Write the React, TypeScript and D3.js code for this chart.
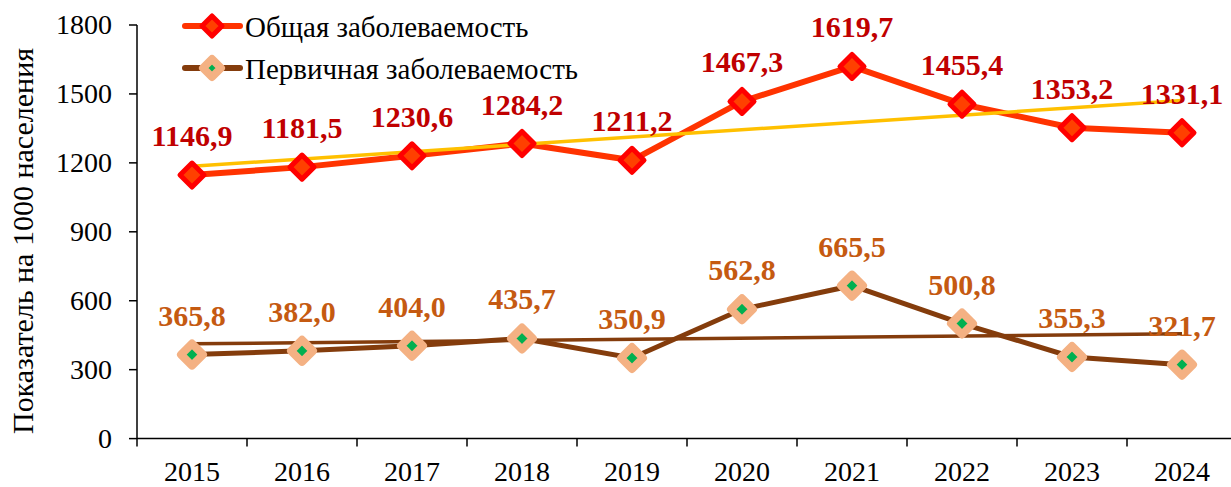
import { useEffect, useRef } from "react"
import * as d3 from "d3"

// years and the two series (per 1000 population)
const years = ["2015", "2016", "2017", "2018", "2019", "2020", "2021", "2022", "2023", "2024"]
const totalValues = [1146.9, 1181.5, 1230.6, 1284.2, 1211.2, 1467.3, 1619.7, 1455.4, 1353.2, 1331.1]
const primaryValues = [365.8, 382.0, 404.0, 435.7, 350.9, 562.8, 665.5, 500.8, 355.3, 321.7]
const yTicks = [0, 300, 600, 900, 1200, 1500, 1800]
const seriesNames = ["Общая заболеваемость", "Первичная заболеваемость"]

const FONT = "'Liberation Serif', 'Times New Roman', serif"

function diamond(r: number) {
  return `M0,${-r}L${r},0L0,${r}L${-r},0Z`
}

// least squares line through (index, value)
function trend(values: number[]) {
  const n = values.length
  const mx = d3.mean(values.map((_, i) => i)) as number
  const my = d3.mean(values) as number
  const sxy = d3.sum(values, (v, i) => (i - mx) * (v - my))
  const sxx = d3.sum(values, (_, i) => (i - mx) * (i - mx))
  const slope = sxy / sxx
  return [0, n - 1].map((i) => ({ i, v: my + slope * (i - mx) }))
}

export default function App() {
  const svgRef = useRef<SVGSVGElement>(null)

  useEffect(() => {
    if (!svgRef.current) return
    const svg = d3.select(svgRef.current)
    svg.selectAll("*").remove()

    const width = 1231
    const height = 487

    const x = d3.scaleBand().domain(years).range([137, 1237])
    const y = d3.scaleLinear().domain([0, 1800]).range([438.6, 25])
    const cx = (i: number) => (x(years[i]) as number) + x.bandwidth() / 2

    svg.attr("width", width).attr("height", height).attr("viewBox", [0, 0, width, height])

    // y axis
    const yAxis = svg.append("g").attr("transform", "translate(137,0)")
    yAxis.append("line").attr("y1", y(1800)).attr("y2", y(0)).attr("stroke", "#000").attr("stroke-width", 1.5)
    yAxis
      .selectAll(".yt")
      .data(yTicks)
      .join("line")
      .attr("x1", -8)
      .attr("x2", 0)
      .attr("y1", (d) => y(d))
      .attr("y2", (d) => y(d))
      .attr("stroke", "#000")
      .attr("stroke-width", 1.5)
    yAxis
      .selectAll(".yl")
      .data(yTicks)
      .join("text")
      .attr("x", -25)
      .attr("y", (d) => y(d) + 9)
      .attr("text-anchor", "end")
      .attr("font-family", FONT)
      .attr("font-size", 28)
      .text((d) => d)

    // x axis
    const xAxis = svg.append("g")
    xAxis
      .append("line")
      .attr("x1", 137)
      .attr("x2", 1237)
      .attr("y1", y(0))
      .attr("y2", y(0))
      .attr("stroke", "#000")
      .attr("stroke-width", 1.5)
    xAxis
      .selectAll(".xt")
      .data(years.map((d) => x(d) as number).concat([1237]))
      .join("line")
      .attr("x1", (d) => d)
      .attr("x2", (d) => d)
      .attr("y1", y(0))
      .attr("y2", y(0) + 8)
      .attr("stroke", "#000")
      .attr("stroke-width", 1.5)
    xAxis
      .selectAll(".xl")
      .data(years)
      .join("text")
      .attr("x", (_, i) => cx(i))
      .attr("y", 481)
      .attr("text-anchor", "middle")
      .attr("font-family", FONT)
      .attr("font-size", 28)
      .text((d) => d)

    // y axis title
    svg
      .append("text")
      .attr("transform", `translate(33,241) rotate(-90)`)
      .attr("text-anchor", "middle")
      .attr("font-family", FONT)
      .attr("font-size", 30)
      .text("Показатель на 1000 населения")

    const line = d3
      .line<number>()
      .x((_, i) => cx(i))
      .y((d) => y(d))

    // series lines
    svg.append("path").datum(totalValues).attr("d", line).attr("fill", "none").attr("stroke", "#ff3300").attr("stroke-width", 6)
    svg.append("path").datum(primaryValues).attr("d", line).attr("fill", "none").attr("stroke", "#843c0c").attr("stroke-width", 5)

    // trend lines
    const trendLine = d3
      .line<{ i: number; v: number }>()
      .x((d) => cx(d.i))
      .y((d) => y(d.v))
    svg.append("path").datum(trend(totalValues)).attr("d", trendLine).attr("fill", "none").attr("stroke", "#ffc000").attr("stroke-width", 3.5)
    svg.append("path").datum(trend(primaryValues)).attr("d", trendLine).attr("fill", "none").attr("stroke", "#843c0c").attr("stroke-width", 3.5)

    // markers
    svg
      .selectAll(".mt")
      .data(totalValues)
      .join("path")
      .attr("transform", (d, i) => `translate(${cx(i)},${y(d)})`)
      .attr("d", diamond(12))
      .attr("fill", "#ff4000")
      .attr("stroke", "#ff0000")
      .attr("stroke-width", 5)
      .attr("stroke-linejoin", "round")
    svg
      .selectAll(".mp")
      .data(primaryValues)
      .join("path")
      .attr("transform", (d, i) => `translate(${cx(i)},${y(d)})`)
      .attr("d", diamond(11))
      .attr("fill", "#00b050")
      .attr("stroke", "#f4b183")
      .attr("stroke-width", 8)
      .attr("stroke-linejoin", "round")

    // data labels
    const fmt = (v: number) => v.toFixed(1).replace(".", ",")
    svg
      .selectAll(".lt")
      .data(totalValues)
      .join("text")
      .attr("x", (_, i) => cx(i))
      .attr("y", (d) => y(d) - 29)
      .attr("text-anchor", "middle")
      .attr("font-family", FONT)
      .attr("font-weight", "bold")
      .attr("font-size", 30)
      .attr("fill", "#c00000")
      .text((d) => fmt(d))
    svg
      .selectAll(".lp")
      .data(primaryValues)
      .join("text")
      .attr("x", (_, i) => cx(i))
      .attr("y", (d) => y(d) - 29)
      .attr("text-anchor", "middle")
      .attr("font-family", FONT)
      .attr("font-weight", "bold")
      .attr("font-size", 30)
      .attr("fill", "#c55a11")
      .text((d) => fmt(d))

    // legend
    const legend = svg.append("g")
    const items = [
      { name: seriesNames[0], yy: 26, line: "#ff3300", fill: "#ff4000", stroke: "#ff0000", r: 10, sw: 5 },
      { name: seriesNames[1], yy: 68, line: "#843c0c", fill: "#00b050", stroke: "#f4b183", r: 9, sw: 8 },
    ]
    items.forEach((it) => {
      legend.append("line").attr("x1", 185).attr("x2", 240).attr("y1", it.yy).attr("y2", it.yy).attr("stroke", it.line).attr("stroke-width", 6).attr("stroke-linecap", "round")
      legend
        .append("path")
        .attr("transform", `translate(212,${it.yy})`)
        .attr("d", diamond(it.r))
        .attr("fill", it.fill)
        .attr("stroke", it.stroke)
        .attr("stroke-width", it.sw)
        .attr("stroke-linejoin", "round")
      legend
        .append("text")
        .attr("x", 245)
        .attr("y", it.yy + 11)
        .attr("font-family", FONT)
        .attr("font-size", 29)
        .text(it.name)
    })
  }, [])

  return (
    <svg
      ref={svgRef}
      style={{ position: "absolute", left: 0, top: 0, background: "#fff" }}
    />
  )
}
